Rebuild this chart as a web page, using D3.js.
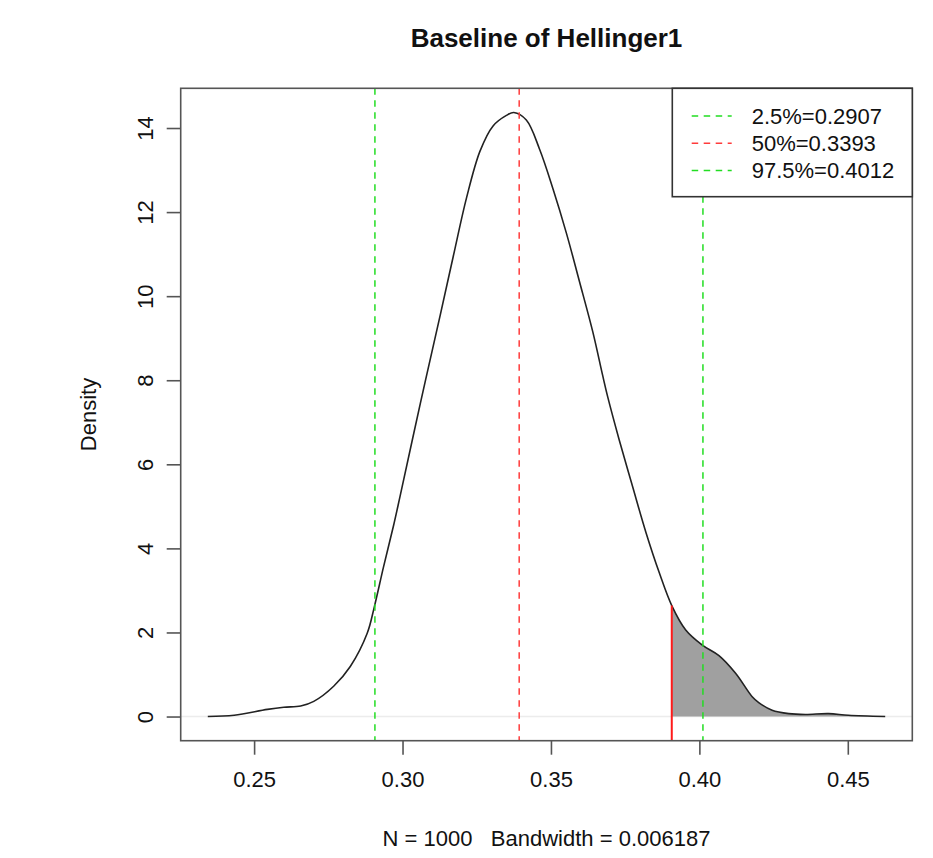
<!DOCTYPE html>
<html>
<head>
<meta charset="utf-8">
<script src="https://cdn.jsdelivr.net/npm/d3@7"></script>
<style>
  body { margin: 0; background: white; }
  svg text { font-family: "Liberation Sans", Arial, Helvetica, sans-serif; fill: #111; }
</style>
</head>
<body>
<svg id="chart" width="933" height="858"></svg>
<script>
// density curve
var dens_x = [0.2344, 0.2433, 0.2545, 0.2600, 0.2657, 0.2701, 0.2768, 0.2824, 0.2881, 0.2905,
              0.2936, 0.2970, 0.2992, 0.3060, 0.3127, 0.3171, 0.3216, 0.3261, 0.3305, 0.3350,
              0.3375, 0.3417, 0.3462, 0.3507, 0.3552, 0.3596, 0.3641, 0.3674, 0.3691, 0.3730,
              0.3775, 0.3820, 0.3865, 0.3907, 0.3954, 0.4010, 0.4066, 0.4122, 0.4178, 0.4200,
              0.4245, 0.4301, 0.4357, 0.4435, 0.4502, 0.4626];
var dens_y = [0.00, 0.03, 0.17, 0.22, 0.25, 0.36, 0.72, 1.19, 1.98, 2.61,
              3.56, 4.55, 5.25, 7.45, 9.55, 10.95, 12.35, 13.45, 14.05, 14.30,
              14.37, 14.19, 13.49, 12.55, 11.50, 10.35, 9.15, 8.12, 7.61, 6.58,
              5.47, 4.38, 3.42, 2.64, 2.06, 1.70, 1.45, 1.03, 0.47, 0.33,
              0.15, 0.07, 0.05, 0.07, 0.03, 0.00];

var quant_names = ["2.5%", "50%", "97.5%"];
var quant_vals = [0.2907, 0.3393, 0.4012];
var quant_cols = ["#22dd22", "#ff3b3b", "#22dd22"];
var cutoff = 0.3907;   // red line, tail shaded to the right of it

var x_ticks = [0.25, 0.30, 0.35, 0.40, 0.45];
var y_ticks = [0, 2, 4, 6, 8, 10, 12, 14];

var title = "Baseline of Hellinger1";
var x_label = "N = 1000   Bandwidth = 0.006187";
var y_label = "Density";

// <layout>
var box = {left: 180.7, right: 912.3, top: 88.3, bottom: 740.7};
var tick_len = 14;
// </layout>

var pts = dens_x.map(function(d, i) { return {x: d, y: dens_y[i]}; });

// R style: extend the data range by 4% on each side
var xr = d3.extent(dens_x), yr = [0, d3.max(dens_y)];
var xpad = (xr[1] - xr[0]) * 0.04, ypad = (yr[1] - yr[0]) * 0.04;
var x = d3.scaleLinear().domain([xr[0] - xpad, xr[1] + xpad]).range([box.left, box.right]);
var y = d3.scaleLinear().domain([yr[0] - ypad, yr[1] + ypad]).range([box.bottom, box.top]);

var curve = d3.curveCatmullRom.alpha(0.5);

var svg = d3.select("#chart");

svg.append("clipPath").attr("id", "plotclip")
  .append("rect")
  .attr("x", box.left).attr("y", box.top)
  .attr("width", box.right - box.left).attr("height", box.bottom - box.top);

var plot = svg.append("g").attr("clip-path", "url(#plotclip)");

// zero line
plot.append("line")
  .attr("x1", box.left).attr("x2", box.right)
  .attr("y1", y(0)).attr("y2", y(0))
  .attr("stroke", "#ececec").attr("stroke-width", 1.5);

// shaded tail
var tail = pts.filter(function(p) { return p.x >= cutoff; });
plot.append("path")
  .datum(tail)
  .attr("d", d3.area().x(function(d) { return x(d.x); })
    .y0(y(0)).y1(function(d) { return y(d.y); })
    .curve(curve))
  .attr("fill", "#a0a0a0");

// density curve
plot.append("path")
  .datum(pts)
  .attr("d", d3.line().x(function(d) { return x(d.x); })
    .y(function(d) { return y(d.y); })
    .curve(curve))
  .attr("fill", "none").attr("stroke", "#222").attr("stroke-width", 1.6);

// quantile lines
plot.selectAll(".qline").data(quant_vals).enter().append("line")
  .attr("class", "qline")
  .attr("x1", function(d) { return x(d); }).attr("x2", function(d) { return x(d); })
  .attr("y1", box.top).attr("y2", box.bottom)
  .attr("stroke", function(d, i) { return quant_cols[i]; })
  .attr("stroke-width", 1.5)
  .attr("stroke-dasharray", "6.5,5.5");

// red cutoff line
var cut_y = dens_y[dens_x.indexOf(cutoff)];
plot.append("line")
  .attr("x1", x(cutoff)).attr("x2", x(cutoff))
  .attr("y1", y(cut_y)).attr("y2", box.bottom)
  .attr("stroke", "#ff1a1a").attr("stroke-width", 2);

// box
svg.append("rect")
  .attr("x", box.left).attr("y", box.top)
  .attr("width", box.right - box.left).attr("height", box.bottom - box.top)
  .attr("fill", "none").attr("stroke", "#555").attr("stroke-width", 1.6);

// x axis
var gx = svg.append("g")
  .attr("transform", "translate(0," + box.bottom + ")")
  .call(d3.axisBottom(x).tickValues(x_ticks).tickSize(tick_len).tickPadding(17)
    .tickFormat(d3.format(".2f")));
gx.select(".domain").remove();
gx.selectAll(".tick line").attr("stroke", "#555").attr("stroke-width", 1.6);
gx.selectAll("text").style("font-size", "22px").attr("fill", "#111");

// y axis, labels turned like R does
var gy = svg.append("g")
  .attr("transform", "translate(" + box.left + ",0)")
  .call(d3.axisLeft(y).tickValues(y_ticks).tickSize(tick_len).tickFormat(d3.format("d")));
gy.select(".domain").remove();
gy.selectAll(".tick line").attr("stroke", "#555").attr("stroke-width", 1.6);
gy.selectAll("text")
  .attr("x", null).attr("dy", null)
  .attr("transform", "translate(-28,0) rotate(-90)")
  .attr("text-anchor", "middle")
  .style("font-size", "22px").attr("fill", "#111");

// titles
svg.append("text")
  .attr("x", (box.left + box.right) / 2).attr("y", 47)
  .attr("text-anchor", "middle")
  .style("font-size", "26px").style("font-weight", "bold")
  .text(title);

svg.append("text")
  .attr("x", (box.left + box.right) / 2).attr("y", 846)
  .attr("text-anchor", "middle")
  .style("font-size", "22px").style("white-space", "pre")
  .text(x_label);

svg.append("text")
  .attr("transform", "translate(96," + (box.top + box.bottom) / 2 + ") rotate(-90)")
  .attr("text-anchor", "middle")
  .style("font-size", "22px")
  .text(y_label);

// legend
var leg = {left: 672.3, bottom: 196.7, row0: 116, row_h: 27.2, seg0: 691.7, seg1: 731.7, text_x: 751.7};
svg.append("rect")
  .attr("x", leg.left).attr("y", box.top)
  .attr("width", box.right - leg.left).attr("height", leg.bottom - box.top)
  .attr("fill", "white").attr("stroke", "#333").attr("stroke-width", 1.6);

var rows = svg.selectAll(".legrow").data(quant_vals).enter().append("g")
  .attr("class", "legrow")
  .attr("transform", function(d, i) { return "translate(0," + (leg.row0 + i * leg.row_h) + ")"; });
rows.append("line")
  .attr("x1", leg.seg0).attr("x2", leg.seg1)
  .attr("stroke", function(d, i) { return quant_cols[i]; })
  .attr("stroke-width", 1.5).attr("stroke-dasharray", "6.5,5.5");
rows.append("text")
  .attr("x", leg.text_x).attr("dy", "0.36em")
  .style("font-size", "22px")
  .text(function(d, i) { return quant_names[i] + "=" + d3.format(".4f")(d); });
</script>
</body>
</html>
